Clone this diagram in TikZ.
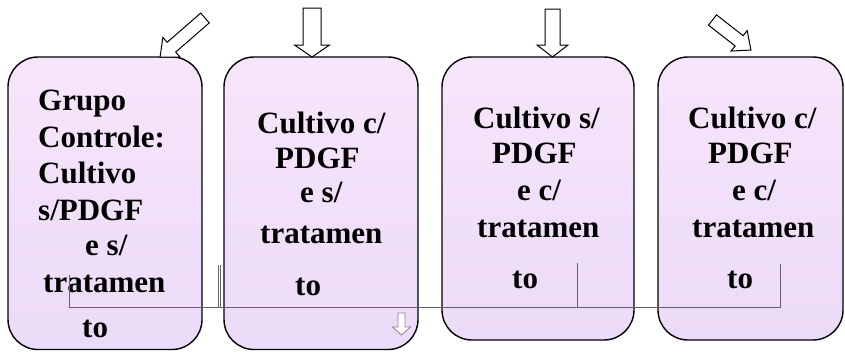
\documentclass[tikz,border=0pt]{standalone}
\usepackage{fontspec}
\setmainfont{Liberation Serif}
\definecolor{boxtop}{RGB}{247,229,251}
\definecolor{boxbot}{RGB}{236,219,248}
\definecolor{thinline}{RGB}{105,92,115}
\definecolor{smallarr}{RGB}{140,128,148}
\newcommand{\blockarrow}[8]{%
  \begin{scope}[shift={(#1,#2)},rotate=#3]
    \draw[#8] (-#5,0) -- (-#5,#4-#7) -- (-#6,#4-#7) -- (0,#4) -- (#6,#4-#7) -- (#5,#4-#7) -- (#5,0) -- cycle;
  \end{scope}}
\tikzset{
  panel/.style={draw=black, line width=1.4pt, rounded corners=30pt, top color=boxtop, bottom color=boxbot},
  lbl/.style={inner sep=0pt, anchor=base west, font=\bfseries\fontsize{31}{36}\selectfont},
  bigarrow/.style={draw=black, line width=1pt, fill=white, line join=miter},
  tinyarrow/.style={draw=smallarr, line width=0.8pt, fill=white},
  guide/.style={draw=thinline, line width=0.8pt}
}
\begin{document}
\begin{tikzpicture}[x=1pt,y=-1pt]
\useasboundingbox (0,0) rectangle (845,351);
% panels
\path[panel] (8,57) rectangle (202,349.5);
\path[panel] (224,57) rectangle (418,349.5);
\path[panel] (442,57) rectangle (634,340);
\path[panel] (658,57) rectangle (843,340);
% big hollow arrows
\blockarrow{205}{18}{-49}{59.5}{6.5}{13}{15}{bigarrow}
\blockarrow{312}{8}{0}{49}{9}{17.5}{12}{bigarrow}
\blockarrow{552.5}{9}{0}{48}{7.5}{15.5}{12}{bigarrow}
\blockarrow{712.5}{20}{52}{48.8}{6.5}{13}{15}{bigarrow}
% box 1 text
\node[lbl] (t1a) at (38,110) {Grupo};
\node[lbl] (t1b) at (38,147) {Controle:};
\node[lbl] (t1c) at (38,183) {Cultivo};
\node[lbl] (t1d) at (38,220) {s/PDGF};
\node[lbl] (t1e) at (85,255) {e s/};
\node[lbl] (t1f) at (43,292) {tratamen};
\node[lbl] (t1g) at (82,337) {to};
% box 2 text
\node[lbl] (t2a) at (257,133) {Cultivo c/};
\node[lbl] (t2b) at (275,168) {PDGF};
\node[lbl] (t2c) at (300,202) {e s/};
\node[lbl] (t2d) at (260,243) {tratamen};
\node[lbl] (t2e) at (295,295) {to};
% box 3 text
\node[lbl] (t3a) at (473,128) {Cultivo s/};
\node[lbl] (t3b) at (492,163) {PDGF};
\node[lbl] (t3c) at (517,200) {e c/};
\node[lbl] (t3d) at (477,237) {tratamen};
\node[lbl] (t3e) at (512,288) {to};
% box 4 text
\node[lbl] (t4a) at (688,128) {Cultivo c/};
\node[lbl] (t4b) at (708,163) {PDGF};
\node[lbl] (t4c) at (732,200) {e c/};
\node[lbl] (t4d) at (692,237) {tratamen};
\node[lbl] (t4e) at (727,288) {to};
% thin guide lines
\coordinate (g1top) at (69,275);
\coordinate (g1bot) at (69,307);
\coordinate (g2top) at (218,265);
\coordinate (g2bot) at (218,307);
\coordinate (g2btop) at (220.5,265);
\coordinate (g2bbot) at (220.5,307);
\coordinate (g3top) at (577,263);
\coordinate (g3bot) at (577,307);
\coordinate (g4top) at (780,264);
\coordinate (g4bot) at (780,307);
\draw[guide] (g1top) -- (g1bot) -- (g4bot) -- (g4top);
\draw[guide] (g2top) -- (g2bot);
\draw[guide] (g2btop) -- (g2bbot);
\draw[guide] (g3top) -- (g3bot);
% small hollow arrow
\blockarrow{401.5}{313}{0}{22}{3.5}{9}{8}{tinyarrow}
\end{tikzpicture}
\end{document}
